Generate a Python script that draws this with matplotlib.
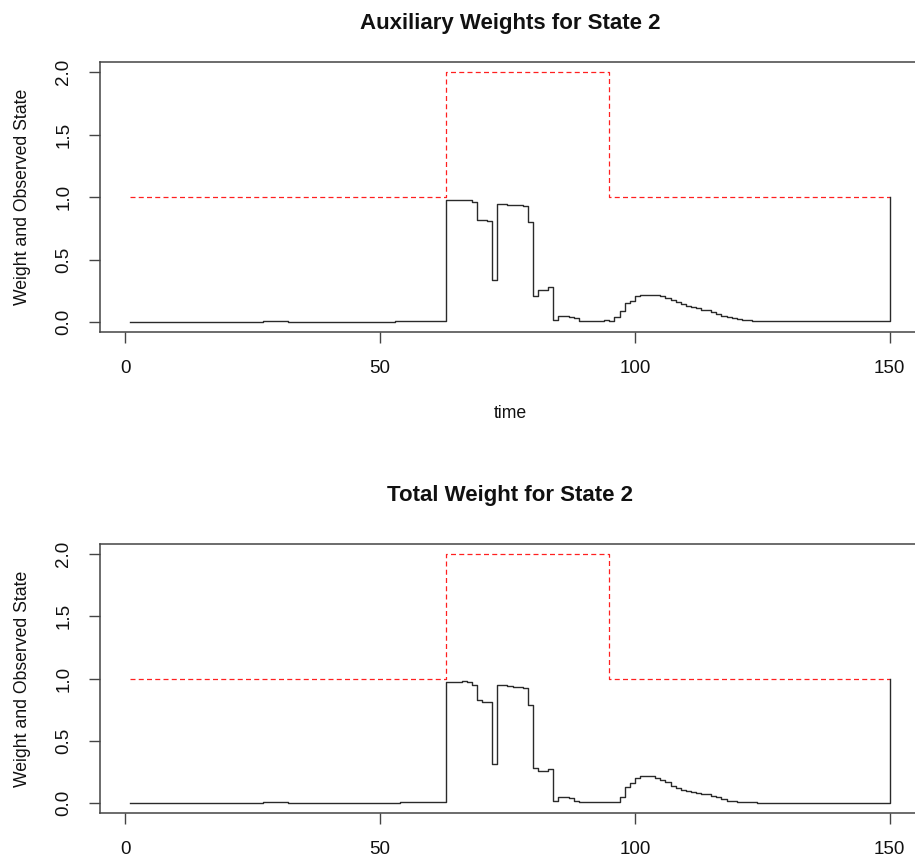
import matplotlib
matplotlib.use("Agg")
import matplotlib.pyplot as plt
import numpy as np

plt.rcParams['font.family'] = ['Liberation Sans', 'DejaVu Sans']

# time steps 1..150
time = np.arange(1, 151)

# observed state (1 -> 2 -> 1)
observed = [1] * 62 + [2] * 32 + [1] * 56

# auxiliary weights for state 2
aux_weight = [
    0.002, 0.002, 0.002, 0.002, 0.002, 0.002, 0.002, 0.002, 0.002, 0.002,
    0.002, 0.002, 0.002, 0.002, 0.002, 0.002, 0.002, 0.002, 0.003, 0.003,
    0.003, 0.003, 0.003, 0.003, 0.003, 0.004, 0.005, 0.008, 0.010, 0.009,
    0.006, 0.004, 0.003, 0.003, 0.003, 0.003, 0.003, 0.003, 0.003, 0.003,
    0.003, 0.003, 0.003, 0.003, 0.003, 0.003, 0.003, 0.003, 0.003, 0.003,
    0.004, 0.004, 0.005, 0.005, 0.005, 0.006, 0.006, 0.007, 0.007, 0.008,
    0.008, 0.008, 0.980, 0.975, 0.975, 0.978, 0.978, 0.960, 0.820, 0.815,
    0.810, 0.340, 0.945, 0.945, 0.940, 0.940, 0.935, 0.930, 0.800, 0.210,
    0.260, 0.260, 0.280, 0.020, 0.050, 0.050, 0.040, 0.030, 0.012, 0.010,
    0.010, 0.012, 0.012, 0.015, 0.010, 0.040, 0.085, 0.155, 0.165, 0.210,
    0.215, 0.220, 0.220, 0.215, 0.210, 0.195, 0.175, 0.160, 0.145, 0.130,
    0.120, 0.115, 0.100, 0.095, 0.080, 0.065, 0.050, 0.040, 0.030, 0.025,
    0.020, 0.015, 0.012, 0.010, 0.008, 0.008, 0.007, 0.007, 0.006, 0.006,
    0.006, 0.005, 0.005, 0.005, 0.005, 0.005, 0.005, 0.005, 0.005, 0.005,
    0.005, 0.005, 0.005, 0.005, 0.005, 0.005, 0.005, 0.005, 0.005, 1.000,
]

# total weights for state 2
total_weight = [
    0.002, 0.002, 0.002, 0.002, 0.002, 0.002, 0.002, 0.002, 0.002, 0.002,
    0.002, 0.002, 0.002, 0.002, 0.002, 0.002, 0.002, 0.002, 0.003, 0.003,
    0.003, 0.003, 0.003, 0.003, 0.003, 0.004, 0.005, 0.008, 0.009, 0.008,
    0.006, 0.004, 0.003, 0.003, 0.003, 0.003, 0.003, 0.003, 0.003, 0.003,
    0.003, 0.003, 0.003, 0.003, 0.003, 0.003, 0.003, 0.003, 0.003, 0.003,
    0.004, 0.004, 0.004, 0.005, 0.005, 0.005, 0.006, 0.006, 0.006, 0.007,
    0.007, 0.007, 0.975, 0.975, 0.975, 0.978, 0.975, 0.950, 0.830, 0.810,
    0.810, 0.310, 0.950, 0.945, 0.940, 0.935, 0.930, 0.925, 0.790, 0.280,
    0.260, 0.260, 0.270, 0.020, 0.050, 0.050, 0.040, 0.020, 0.010, 0.010,
    0.008, 0.008, 0.010, 0.010, 0.010, 0.012, 0.050, 0.125, 0.163, 0.198,
    0.217, 0.220, 0.220, 0.200, 0.185, 0.165, 0.140, 0.120, 0.105, 0.095,
    0.085, 0.077, 0.075, 0.072, 0.060, 0.045, 0.030, 0.020, 0.013, 0.010,
    0.007, 0.005, 0.005, 0.004, 0.004, 0.004, 0.003, 0.003, 0.003, 0.003,
    0.003, 0.003, 0.003, 0.003, 0.003, 0.003, 0.003, 0.003, 0.003, 0.003,
    0.003, 0.003, 0.003, 0.003, 0.003, 0.003, 0.003, 0.003, 0.003, 1.000,
]

titles = ["Auxiliary Weights for State 2", "Total Weight for State 2"]
x_ticks = [0, 50, 100, 150]
y_ticks = [0.0, 0.5, 1.0, 1.5, 2.0]
y_tick_labels = ["0.0", "0.5", "1.0", "1.5", "2.0"]

W, H = 915, 858
fig = plt.figure(figsize=(W / 100, H / 100), dpi=100)

# panel boxes in pixels: (left, top, right, bottom); right edge runs off the picture
boxes = [(100, 62, 920, 332), (100, 544, 920, 813)]
title_y = [24, 496]
series = [aux_weight, total_weight]
box_col = "#444444"

for i, (l, t, r, b) in enumerate(boxes):
    ax = fig.add_axes([l / W, 1 - b / H, (r - l) / W, (b - t) / H])
    ax.step(time, observed, where="post", color="#ff2020", lw=0.9,
            linestyle=(0, (4.0, 2.6)))
    ax.step(time, series[i], where="post", color="#2a2a2a", lw=1.0)

    ax.set_xlim(1 - 0.04 * 149, 150 + 0.04 * 149)
    ax.set_ylim(-0.08, 2.08)
    ax.set_xticks(x_ticks)
    ax.set_yticks(y_ticks)
    ax.set_yticklabels(y_tick_labels, rotation=90, va="center")
    for s in ax.spines.values():
        s.set_color(box_col)
        s.set_linewidth(1.1)
    ax.tick_params(direction="out", length=8, width=1.0, color=box_col,
                   labelsize=13.5, pad=12, labelcolor="#111111")

    ax.set_ylabel("Weight and Observed State", fontsize=12.7, color="#111111",
                  va="center")
    ax.yaxis.set_label_coords((23 - l) / (r - l), 0.5)
    if i == 0:
        ax.set_xlabel("time", fontsize=12.7, color="#111111", va="center")
        ax.xaxis.set_label_coords((510 - l) / (r - l), (b - 413) / (b - t))

    fig.text(510 / W, 1 - title_y[i] / H, titles[i], ha="center", va="center",
             fontsize=16, fontweight="bold", color="#111111")

fig.savefig("out.png", dpi=100)
